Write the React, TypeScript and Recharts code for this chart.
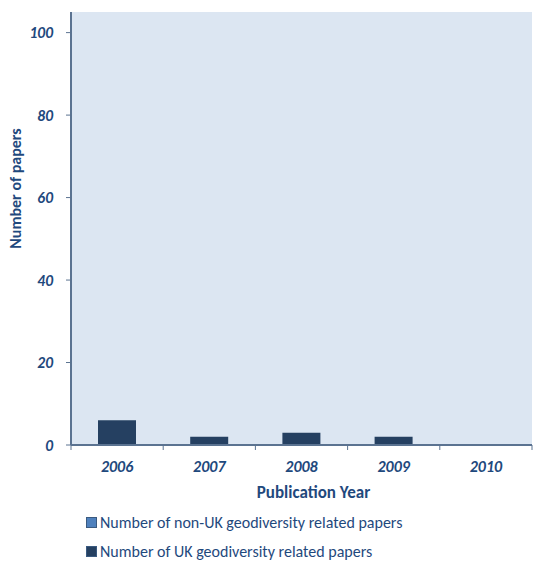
import { BarChart, Bar, XAxis, YAxis, CartesianGrid } from 'recharts';

const years = ['2006', '2007', '2008', '2009', '2010'];
const ukPapers = [6, 2, 3, 2, 0];
const nonUkPapers = [0, 0, 0, 0, 0];
const yTicks = [0, 20, 40, 60, 80, 100];

const data = years.map((year, i) => ({ year, uk: ukPapers[i], nonUk: nonUkPapers[i] }));

const TEXT = '#1F497D';
const AXIS = '#5B7391';
const FONT = 'Carlito, Lato, "Open Sans", sans-serif';

const PLOT_LEFT = 71;
const PLOT_RIGHT = 532;
const HALF_BAND = (PLOT_RIGHT - PLOT_LEFT) / (years.length * 2);

function YearTick({ x, y, index }: any) {
  return (
    <g>
      <line x1={x - HALF_BAND} y1={y} x2={x - HALF_BAND} y2={y + 5} stroke={AXIS} />
      {index === years.length - 1 && (
        <line x1={x + HALF_BAND} y1={y} x2={x + HALF_BAND} y2={y + 5} stroke={AXIS} />
      )}
      <text x={x} y={y + 27} textAnchor="middle" fill={TEXT} fontSize={16} fontWeight="bold" fontStyle="italic" fontFamily={FONT}>
        {years[index]}
      </text>
    </g>
  );
}

const legendItems = [
  { label: 'Number of non-UK geodiversity related papers', color: '#4F81BD' },
  { label: 'Number of UK geodiversity related papers', color: '#254061' },
];

export default function App() {
  return (
    <div style={{ position: 'absolute', left: 0, top: 0, width: 533, height: 563, background: '#fff' }}>
      <BarChart width={533} height={510} data={data} margin={{ top: 12, right: 1, left: 0, bottom: 0 }} barSize={38}>
        <CartesianGrid horizontal={false} vertical={false} fill="#DCE6F2" />
        <XAxis
          dataKey="year"
          height={65}
          axisLine={{ stroke: AXIS, strokeWidth: 2 }}
          tickLine={false}
          tick={<YearTick />}
          interval={0}
          tickMargin={0}
          tickSize={0}
          label={{ value: 'Publication Year', position: 'insideBottom', offset: 12, dx: 12, fill: TEXT, fontSize: 17, fontWeight: 'bold', fontFamily: FONT }}
        />
        <YAxis
          width={71}
          domain={[0, 105]}
          ticks={yTicks}
          axisLine={{ stroke: AXIS, strokeWidth: 2 }}
          tickLine={{ stroke: AXIS }}
          tickSize={5}
          tickMargin={13}
          tick={{ fill: TEXT, fontSize: 15.5, fontWeight: 'bold', fontStyle: 'italic', fontFamily: FONT }}
          label={{ value: 'Number of papers', angle: -90, position: 'insideLeft', offset: 15, dy: -40, fill: TEXT, fontSize: 16, fontWeight: 'bold', fontFamily: FONT, style: { textAnchor: 'middle' } }}
        />
        <Bar dataKey="uk" stackId="a" fill="#254061" isAnimationActive={false} />
        <Bar dataKey="nonUk" stackId="a" fill="#4F81BD" isAnimationActive={false} />
      </BarChart>
      <div style={{ position: 'absolute', left: 86, top: 508, fontFamily: FONT, fontSize: 16, color: TEXT }}>
        {legendItems.map((it) => (
          <div key={it.label} style={{ display: 'flex', alignItems: 'center', height: 29 }}>
            <span style={{ width: 9, height: 9, background: it.color, border: '1px solid #3A5A80', marginRight: 3 }} />
            <span>{it.label}</span>
          </div>
        ))}
      </div>
    </div>
  );
}
